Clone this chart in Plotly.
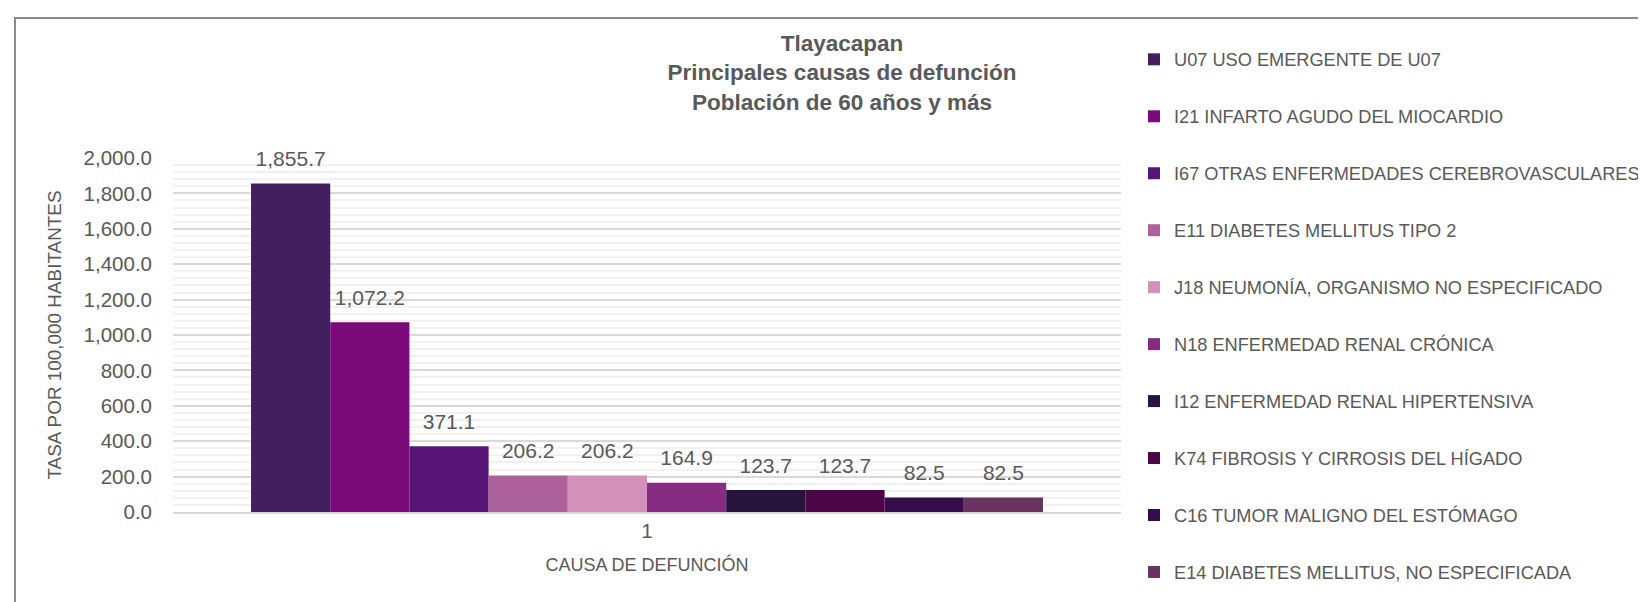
import plotly.graph_objects as go

# Tasa por 100,000 habitantes, población de 60 años y más
causas = [
    "U07 USO EMERGENTE DE U07",
    "I21 INFARTO AGUDO DEL MIOCARDIO",
    "I67 OTRAS ENFERMEDADES CEREBROVASCULARES",
    "E11 DIABETES MELLITUS TIPO 2",
    "J18 NEUMONÍA, ORGANISMO NO ESPECIFICADO",
    "N18 ENFERMEDAD RENAL CRÓNICA",
    "I12 ENFERMEDAD RENAL HIPERTENSIVA",
    "K74 FIBROSIS Y CIRROSIS DEL HÍGADO",
    "C16 TUMOR MALIGNO DEL ESTÓMAGO",
    "E14 DIABETES MELLITUS, NO ESPECIFICADA",
]
tasas = [1855.7, 1072.2, 371.1, 206.2, 206.2, 164.9, 123.7, 123.7, 82.5, 82.5]
colores = [
    "#421f5e", "#7b0a7b", "#581578", "#ad629b", "#d390b8",
    "#862d83", "#28143c", "#4c0549", "#360d4c", "#6b3360",
]
categoria = ["1"]

INK = "#595959"
FONT = "Liberation Sans, Arial, sans-serif"
GAP = 0.1646

# area de trazado (px)
L, R, T, B = 165, 1113, 150, 504
W, H = R - L, B - T

fig = go.Figure()
for i, (nombre, valor, color) in enumerate(zip(causas, tasas, colores)):
    fig.add_bar(
        x=categoria, y=[valor], name=nombre, marker_color=color,
        marker_line_width=0, legendgroup=f"g{i}",
    )
# etiquetas de datos (un poco separadas de la barra, como en Excel)
for i, valor in enumerate(tasas):
    fig.add_scatter(
        x=categoria, y=[valor], mode="markers+text",
        marker=dict(size=18, opacity=0), showlegend=False, hoverinfo="skip",
        text=[f"{valor:,.1f}"], textposition="top center",
        textfont=dict(size=21, color=INK), cliponaxis=False,
    )

fig.update_layout(
    width=1646, height=602,
    paper_bgcolor="white", plot_bgcolor="white",
    margin=dict(l=L, r=1646 - R, t=T, b=602 - B, autoexpand=False),
    font=dict(family=FONT, size=18, color=INK),
    barmode="group", bargap=GAP, bargroupgap=0,
    scattermode="group", scattergap=GAP,
    title=dict(
        text="Tlayacapan<br>Principales causas de defunción<br>Población de 60 años y más",
        x=(834 - L) / W, xref="paper", xanchor="center",
        y=1 - 43 / 602, yref="container", yanchor="top",
        font=dict(size=22.5, color=INK, family=FONT, weight="bold"),
    ),
    legend=dict(
        x=(1126 - L) / W, xanchor="left", xref="paper",
        y=1 - 33 / 602, yanchor="top", yref="container", maxheight=1,
        font=dict(size=18.2, color=INK), tracegroupgap=30.3,
        itemclick=False, bgcolor="rgba(0,0,0,0)",
    ),
    showlegend=True,
)

fig.update_xaxes(
    type="category", showgrid=False, showline=True, linecolor="#d9d9d9",
    linewidth=1.5, ticks="", tickfont=dict(size=20, color=INK),
    title=dict(text="CAUSA DE DEFUNCIÓN", font=dict(size=18, color=INK), standoff=18),
)
fig.update_yaxes(
    range=[0, 2000], dtick=200, tickformat=",.1f",
    showgrid=True, gridcolor="#d9d9d9", gridwidth=1.5,
    minor=dict(dtick=40, showgrid=True, gridcolor="#f2f2f2", gridwidth=1.5),
    zeroline=False, ticks="", ticklabelstandoff=20,
    tickfont=dict(size=20.5, color=INK),
    title=dict(text="TASA POR 100,000 HABITANTES", font=dict(size=18.9, color=INK), standoff=16),
)

# marco del gráfico
fig.add_shape(
    type="rect", xref="paper", yref="paper",
    x0=(7 - L) / W, x1=(1700 - L) / W,
    y0=(B - 700) / H, y1=(B - 10) / H,
    line=dict(color="#8c8c8c", width=2), fillcolor="rgba(0,0,0,0)", layer="below",
)

fig.write_html("out.html")
